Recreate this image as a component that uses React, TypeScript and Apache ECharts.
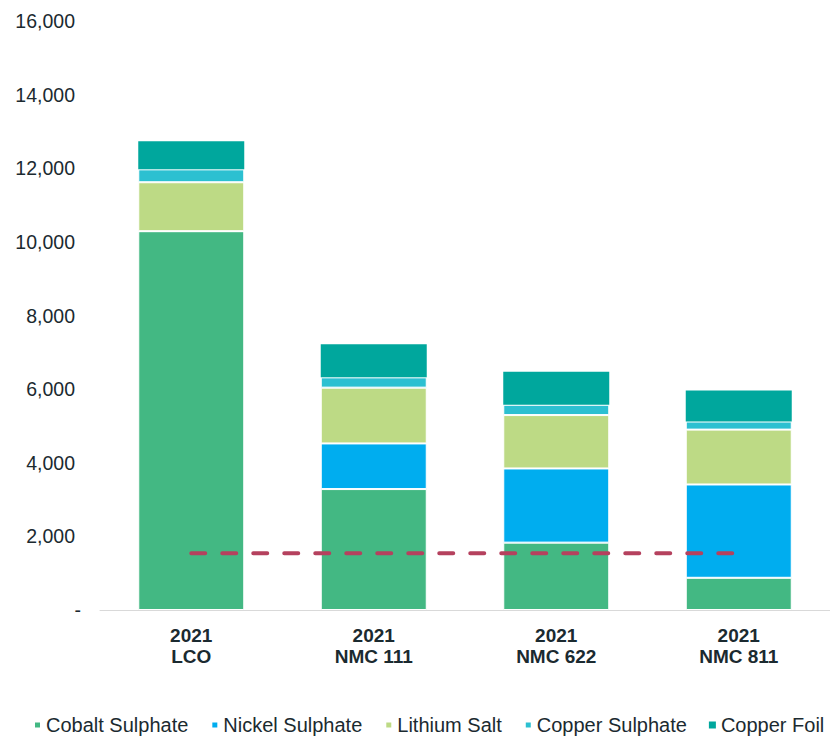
import React, { useEffect, useRef } from "react";
import * as echarts from "echarts";

const categories = ["2021\nLCO", "2021\nNMC 111", "2021\nNMC 622", "2021\nNMC 811"];
const seriesNames = ["Cobalt Sulphate", "Nickel Sulphate", "Lithium Salt", "Copper Sulphate", "Copper Foil"];
const cobaltSulphate = [10290, 3285, 1830, 875];
const nickelSulphate = [0, 1240, 2015, 2535];
const lithiumSalt = [1330, 1515, 1450, 1490];
const copperSulphate = [350, 280, 280, 220];
const copperFoil = [765, 900, 895, 845];
const referenceLine = [1540, 1540, 1540, 1540];
const yTicks = { min: 0, max: 16000, interval: 2000 };

const colors = ["#43B883", "#00ADEF", "#BDDA85", "#2CC0D1", "#00A79D"];
const textColor = "#1B2A30";
const fontFamily = "Arial, 'Liberation Sans', sans-serif";

export default function App() {
  const ref = useRef<HTMLDivElement>(null);
  useEffect(() => {
    if (!ref.current) return;
    const chart = echarts.init(ref.current, null, { renderer: "svg" });
    const values = [cobaltSulphate, nickelSulphate, lithiumSalt, copperSulphate, copperFoil];
    const barSeries = seriesNames.map((name, i) => ({
      name,
      type: "bar",
      stack: "total",
      barWidth: 106,
      data: values[i],
      itemStyle: {
        color: colors[i],
        borderColor: "#ffffff",
        borderWidth: i === 4 ? 0 : 1,
      },
    }));
    chart.setOption({
      animation: false,
      textStyle: { fontFamily },
      grid: { left: 100, right: -6, top: 21, bottom: 127, containLabel: false },
      legend: {
        data: seriesNames,
        left: 33,
        top: 713,
        padding: 0,
        icon: "rect",
        itemWidth: 7,
        itemHeight: 7,
        itemGap: 22,
        textStyle: { fontSize: 20, color: textColor, fontFamily, lineHeight: 24 },
      },
      xAxis: {
        type: "category",
        data: categories,
        axisLine: { show: true, lineStyle: { color: "#D9D9D9", width: 1 } },
        axisTick: { show: false },
        axisLabel: {
          margin: 15,
          fontSize: 19,
          fontWeight: "bold",
          color: textColor,
          lineHeight: 21,
          fontFamily,
        },
      },
      yAxis: {
        type: "value",
        min: yTicks.min,
        max: yTicks.max,
        interval: yTicks.interval,
        axisLine: { show: false },
        axisTick: { show: false },
        splitLine: { show: false },
        axisLabel: {
          margin: 19,
          formatter: (v: number) =>
            v === 0 ? "{d|-}" : "{n|" + v.toLocaleString("en-US") + "}",
          rich: {
            n: { fontSize: 19.5, color: textColor, padding: [0, 6, 0, 0], fontFamily },
            d: { fontSize: 19.5, color: textColor, fontFamily },
          },
        },
      },
      series: [
        ...barSeries,
        {
          name: "Reference",
          type: "line",
          data: referenceLine,
          symbol: "none",
          z: 5,
          lineStyle: {
            color: "#B5415E",
            width: 4,
            type: [14, 17],
            cap: "round",
          },
        },
      ],
    });
    return () => chart.dispose();
  }, []);
  return (
    <div
      ref={ref}
      style={{ position: "absolute", left: 0, top: 0, width: 830, height: 737 }}
    />
  );
}
